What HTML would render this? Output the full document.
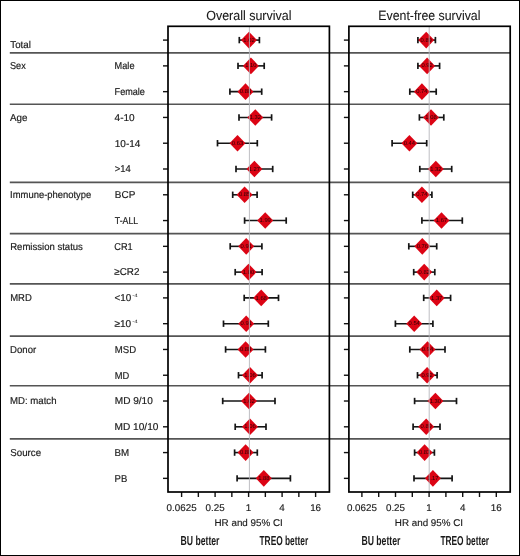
<!DOCTYPE html><html><head><meta charset="utf-8"><style>html,body{margin:0;padding:0;background:#fff;}svg{display:block;will-change:transform;text-rendering:geometricPrecision;}text{font-family:"Liberation Sans", sans-serif;}</style></head><body>
<svg width="520" height="556" viewBox="0 0 520 556">
<rect x="0" y="0" width="520" height="556" fill="#fff"/>
<line x1="9.8" y1="52.90" x2="510.2" y2="52.90" stroke="#555" stroke-width="1.6"/>
<line x1="9.8" y1="104.20" x2="510.2" y2="104.20" stroke="#555" stroke-width="1.6"/>
<line x1="9.8" y1="182.40" x2="510.2" y2="182.40" stroke="#555" stroke-width="1.6"/>
<line x1="9.8" y1="233.60" x2="510.2" y2="233.60" stroke="#555" stroke-width="1.6"/>
<line x1="9.8" y1="283.90" x2="510.2" y2="283.90" stroke="#555" stroke-width="1.6"/>
<line x1="9.8" y1="336.10" x2="510.2" y2="336.10" stroke="#555" stroke-width="1.6"/>
<line x1="9.8" y1="385.70" x2="510.2" y2="385.70" stroke="#555" stroke-width="1.6"/>
<line x1="9.8" y1="438.90" x2="510.2" y2="438.90" stroke="#555" stroke-width="1.6"/>
<text x="10.30" y="48.10" font-size="10.0" fill="#1a1a1a" stroke="#1a1a1a" stroke-width="0.18" textLength="20.50" lengthAdjust="spacingAndGlyphs">Total</text>
<text x="10.00" y="69.18" font-size="10.0" fill="#1a1a1a" stroke="#1a1a1a" stroke-width="0.18" textLength="15.80" lengthAdjust="spacingAndGlyphs">Sex</text>
<text x="10.00" y="120.74" font-size="10.0" fill="#1a1a1a" stroke="#1a1a1a" stroke-width="0.18" textLength="17.40" lengthAdjust="spacingAndGlyphs">Age</text>
<text x="10.10" y="198.08" font-size="10.0" fill="#1a1a1a" stroke="#1a1a1a" stroke-width="0.18" textLength="81.20" lengthAdjust="spacingAndGlyphs">Immune-phenotype</text>
<text x="10.20" y="249.64" font-size="10.0" fill="#1a1a1a" stroke="#1a1a1a" stroke-width="0.18" textLength="72.70" lengthAdjust="spacingAndGlyphs">Remission status</text>
<text x="10.20" y="301.20" font-size="10.0" fill="#1a1a1a" stroke="#1a1a1a" stroke-width="0.18" textLength="21.60" lengthAdjust="spacingAndGlyphs">MRD</text>
<text x="10.10" y="352.76" font-size="10.0" fill="#1a1a1a" stroke="#1a1a1a" stroke-width="0.18" textLength="26.10" lengthAdjust="spacingAndGlyphs">Donor</text>
<text x="10.10" y="404.32" font-size="10.0" fill="#1a1a1a" stroke="#1a1a1a" stroke-width="0.18" textLength="46.40" lengthAdjust="spacingAndGlyphs">MD: match</text>
<text x="10.30" y="455.88" font-size="10.0" fill="#1a1a1a" stroke="#1a1a1a" stroke-width="0.18" textLength="30.80" lengthAdjust="spacingAndGlyphs">Source</text>
<text x="114.60" y="69.18" font-size="10.0" fill="#1a1a1a" stroke="#1a1a1a" stroke-width="0.18" textLength="19.90" lengthAdjust="spacingAndGlyphs">Male</text>
<text x="114.60" y="94.96" font-size="10.0" fill="#1a1a1a" stroke="#1a1a1a" stroke-width="0.18" textLength="30.30" lengthAdjust="spacingAndGlyphs">Female</text>
<text x="114.60" y="120.74" font-size="10.0" fill="#1a1a1a" stroke="#1a1a1a" stroke-width="0.18" textLength="20.10" lengthAdjust="spacingAndGlyphs">4-10</text>
<text x="114.80" y="146.52" font-size="10.0" fill="#1a1a1a" stroke="#1a1a1a" stroke-width="0.18" textLength="25.60" lengthAdjust="spacingAndGlyphs">10-14</text>
<text x="114.80" y="172.30" font-size="10.0" fill="#1a1a1a" stroke="#1a1a1a" stroke-width="0.18" textLength="16.00" lengthAdjust="spacingAndGlyphs">&gt;14</text>
<text x="114.80" y="198.08" font-size="10.0" fill="#1a1a1a" stroke="#1a1a1a" stroke-width="0.18" textLength="20.50" lengthAdjust="spacingAndGlyphs">BCP</text>
<text x="114.80" y="223.86" font-size="10.0" fill="#1a1a1a" stroke="#1a1a1a" stroke-width="0.18" textLength="23.40" lengthAdjust="spacingAndGlyphs">T-ALL</text>
<text x="114.30" y="249.64" font-size="10.0" fill="#1a1a1a" stroke="#1a1a1a" stroke-width="0.18" textLength="18.40" lengthAdjust="spacingAndGlyphs">CR1</text>
<text x="114.30" y="275.42" font-size="10.0" fill="#1a1a1a" stroke="#1a1a1a" stroke-width="0.18" textLength="25.10" lengthAdjust="spacingAndGlyphs">≥CR2</text>
<text x="114.40" y="301.20" font-size="10.0" fill="#1a1a1a" stroke="#1a1a1a" stroke-width="0.18" textLength="16.80" lengthAdjust="spacingAndGlyphs">&lt;10</text>
<text x="132.20" y="297.30" font-size="4.8" fill="#1a1a1a" textLength="5.6" lengthAdjust="spacingAndGlyphs">-4</text>
<text x="114.40" y="326.98" font-size="10.0" fill="#1a1a1a" stroke="#1a1a1a" stroke-width="0.18" textLength="16.80" lengthAdjust="spacingAndGlyphs">≥10</text>
<text x="132.20" y="323.08" font-size="4.8" fill="#1a1a1a" textLength="5.6" lengthAdjust="spacingAndGlyphs">-4</text>
<text x="114.80" y="352.76" font-size="10.0" fill="#1a1a1a" stroke="#1a1a1a" stroke-width="0.18" textLength="21.30" lengthAdjust="spacingAndGlyphs">MSD</text>
<text x="114.80" y="378.54" font-size="10.0" fill="#1a1a1a" stroke="#1a1a1a" stroke-width="0.18" textLength="14.50" lengthAdjust="spacingAndGlyphs">MD</text>
<text x="114.80" y="404.32" font-size="10.0" fill="#1a1a1a" stroke="#1a1a1a" stroke-width="0.18" textLength="38.00" lengthAdjust="spacingAndGlyphs">MD 9/10</text>
<text x="114.60" y="430.10" font-size="10.0" fill="#1a1a1a" stroke="#1a1a1a" stroke-width="0.18" textLength="43.80" lengthAdjust="spacingAndGlyphs">MD 10/10</text>
<text x="114.60" y="455.88" font-size="10.0" fill="#1a1a1a" stroke="#1a1a1a" stroke-width="0.18" textLength="14.60" lengthAdjust="spacingAndGlyphs">BM</text>
<text x="114.60" y="481.66" font-size="10.0" fill="#1a1a1a" stroke="#1a1a1a" stroke-width="0.18" textLength="12.70" lengthAdjust="spacingAndGlyphs">PB</text>
<text x="206.20" y="20.4" font-size="13.3" fill="#1a1a1a" stroke="#1a1a1a" stroke-width="0.1" textLength="85.30" lengthAdjust="spacingAndGlyphs">Overall survival</text>
<line x1="163.00" y1="40.10" x2="168.00" y2="40.10" stroke="#111" stroke-width="1.4"/>
<line x1="163.00" y1="65.88" x2="168.00" y2="65.88" stroke="#111" stroke-width="1.4"/>
<line x1="163.00" y1="91.66" x2="168.00" y2="91.66" stroke="#111" stroke-width="1.4"/>
<line x1="163.00" y1="117.44" x2="168.00" y2="117.44" stroke="#111" stroke-width="1.4"/>
<line x1="163.00" y1="143.22" x2="168.00" y2="143.22" stroke="#111" stroke-width="1.4"/>
<line x1="163.00" y1="169.00" x2="168.00" y2="169.00" stroke="#111" stroke-width="1.4"/>
<line x1="163.00" y1="194.78" x2="168.00" y2="194.78" stroke="#111" stroke-width="1.4"/>
<line x1="163.00" y1="220.56" x2="168.00" y2="220.56" stroke="#111" stroke-width="1.4"/>
<line x1="163.00" y1="246.34" x2="168.00" y2="246.34" stroke="#111" stroke-width="1.4"/>
<line x1="163.00" y1="272.12" x2="168.00" y2="272.12" stroke="#111" stroke-width="1.4"/>
<line x1="163.00" y1="297.90" x2="168.00" y2="297.90" stroke="#111" stroke-width="1.4"/>
<line x1="163.00" y1="323.68" x2="168.00" y2="323.68" stroke="#111" stroke-width="1.4"/>
<line x1="163.00" y1="349.46" x2="168.00" y2="349.46" stroke="#111" stroke-width="1.4"/>
<line x1="163.00" y1="375.24" x2="168.00" y2="375.24" stroke="#111" stroke-width="1.4"/>
<line x1="163.00" y1="401.02" x2="168.00" y2="401.02" stroke="#111" stroke-width="1.4"/>
<line x1="163.00" y1="426.80" x2="168.00" y2="426.80" stroke="#111" stroke-width="1.4"/>
<line x1="163.00" y1="452.58" x2="168.00" y2="452.58" stroke="#111" stroke-width="1.4"/>
<line x1="163.00" y1="478.36" x2="168.00" y2="478.36" stroke="#111" stroke-width="1.4"/>
<line x1="181.60" y1="492.00" x2="181.60" y2="497.00" stroke="#111" stroke-width="1.4"/>
<line x1="198.35" y1="492.00" x2="198.35" y2="497.00" stroke="#111" stroke-width="1.4"/>
<line x1="215.10" y1="492.00" x2="215.10" y2="497.00" stroke="#111" stroke-width="1.4"/>
<line x1="231.85" y1="492.00" x2="231.85" y2="497.00" stroke="#111" stroke-width="1.4"/>
<line x1="248.60" y1="492.00" x2="248.60" y2="497.00" stroke="#111" stroke-width="1.4"/>
<line x1="265.35" y1="492.00" x2="265.35" y2="497.00" stroke="#111" stroke-width="1.4"/>
<line x1="282.10" y1="492.00" x2="282.10" y2="497.00" stroke="#111" stroke-width="1.4"/>
<line x1="298.85" y1="492.00" x2="298.85" y2="497.00" stroke="#111" stroke-width="1.4"/>
<line x1="315.60" y1="492.00" x2="315.60" y2="497.00" stroke="#111" stroke-width="1.4"/>
<text x="181.60" y="510.6" font-size="9.8" fill="#1a1a1a" stroke="#1a1a1a" stroke-width="0.15" text-anchor="middle">0.0625</text>
<text x="215.10" y="510.6" font-size="9.8" fill="#1a1a1a" stroke="#1a1a1a" stroke-width="0.15" text-anchor="middle">0.25</text>
<text x="248.60" y="510.6" font-size="9.8" fill="#1a1a1a" stroke="#1a1a1a" stroke-width="0.15" text-anchor="middle">1</text>
<text x="282.10" y="510.6" font-size="9.8" fill="#1a1a1a" stroke="#1a1a1a" stroke-width="0.15" text-anchor="middle">4</text>
<text x="315.60" y="510.6" font-size="9.8" fill="#1a1a1a" stroke="#1a1a1a" stroke-width="0.15" text-anchor="middle">16</text>
<text x="214.50" y="526.2" font-size="9.8" fill="#1a1a1a" stroke="#1a1a1a" stroke-width="0.15" textLength="68.3" lengthAdjust="spacingAndGlyphs">HR and 95% CI</text>
<text x="180.50" y="545.1" font-size="13" font-weight="bold" fill="#1a1a1a" textLength="39.00" lengthAdjust="spacingAndGlyphs">BU better</text>
<text x="259.50" y="545.1" font-size="13" font-weight="bold" fill="#1a1a1a" textLength="48.70" lengthAdjust="spacingAndGlyphs">TREO better</text>
<line x1="239.30" y1="40.10" x2="259.40" y2="40.10" stroke="#151515" stroke-width="1.6"/>
<line x1="239.30" y1="36.90" x2="239.30" y2="43.30" stroke="#151515" stroke-width="1.7"/>
<line x1="259.40" y1="36.90" x2="259.40" y2="43.30" stroke="#151515" stroke-width="1.7"/>
<path d="M241.00 40.10L249.00 31.80L257.00 40.10L249.00 48.40Z" fill="#dc0414"/>
<text x="249.00" y="41.70" font-size="5.8" fill="#2a0004" text-anchor="middle">1.02</text>
<line x1="238.00" y1="65.88" x2="264.20" y2="65.88" stroke="#151515" stroke-width="1.6"/>
<line x1="238.00" y1="62.68" x2="238.00" y2="69.08" stroke="#151515" stroke-width="1.7"/>
<line x1="264.20" y1="62.68" x2="264.20" y2="69.08" stroke="#151515" stroke-width="1.7"/>
<path d="M242.90 65.88L250.90 57.58L258.90 65.88L250.90 74.18Z" fill="#dc0414"/>
<text x="250.90" y="67.48" font-size="5.8" fill="#2a0004" text-anchor="middle">1.10</text>
<line x1="229.90" y1="91.66" x2="261.70" y2="91.66" stroke="#151515" stroke-width="1.6"/>
<line x1="229.90" y1="88.46" x2="229.90" y2="94.86" stroke="#151515" stroke-width="1.7"/>
<line x1="261.70" y1="88.46" x2="261.70" y2="94.86" stroke="#151515" stroke-width="1.7"/>
<path d="M237.50 91.66L245.50 83.36L253.50 91.66L245.50 99.96Z" fill="#dc0414"/>
<text x="245.50" y="93.26" font-size="5.8" fill="#2a0004" text-anchor="middle">0.88</text>
<line x1="239.00" y1="117.44" x2="271.60" y2="117.44" stroke="#151515" stroke-width="1.6"/>
<line x1="239.00" y1="114.24" x2="239.00" y2="120.64" stroke="#151515" stroke-width="1.7"/>
<line x1="271.60" y1="114.24" x2="271.60" y2="120.64" stroke="#151515" stroke-width="1.7"/>
<path d="M247.30 117.44L255.30 109.14L263.30 117.44L255.30 125.74Z" fill="#dc0414"/>
<text x="255.30" y="119.04" font-size="5.8" fill="#2a0004" text-anchor="middle">1.32</text>
<line x1="217.50" y1="143.22" x2="257.30" y2="143.22" stroke="#151515" stroke-width="1.6"/>
<line x1="217.50" y1="140.02" x2="217.50" y2="146.42" stroke="#151515" stroke-width="1.7"/>
<line x1="257.30" y1="140.02" x2="257.30" y2="146.42" stroke="#151515" stroke-width="1.7"/>
<path d="M229.50 143.22L237.50 134.92L245.50 143.22L237.50 151.52Z" fill="#dc0414"/>
<text x="237.50" y="144.82" font-size="5.8" fill="#2a0004" text-anchor="middle">0.63</text>
<line x1="236.00" y1="169.00" x2="272.70" y2="169.00" stroke="#151515" stroke-width="1.6"/>
<line x1="236.00" y1="165.80" x2="236.00" y2="172.20" stroke="#151515" stroke-width="1.7"/>
<line x1="272.70" y1="165.80" x2="272.70" y2="172.20" stroke="#151515" stroke-width="1.7"/>
<path d="M246.40 169.00L254.40 160.70L262.40 169.00L254.40 177.30Z" fill="#dc0414"/>
<text x="254.40" y="170.60" font-size="5.8" fill="#2a0004" text-anchor="middle">1.27</text>
<line x1="232.70" y1="194.78" x2="257.10" y2="194.78" stroke="#151515" stroke-width="1.6"/>
<line x1="232.70" y1="191.58" x2="232.70" y2="197.98" stroke="#151515" stroke-width="1.7"/>
<line x1="257.10" y1="191.58" x2="257.10" y2="197.98" stroke="#151515" stroke-width="1.7"/>
<path d="M236.60 194.78L244.60 186.48L252.60 194.78L244.60 203.08Z" fill="#dc0414"/>
<text x="244.60" y="196.38" font-size="5.8" fill="#2a0004" text-anchor="middle">0.85</text>
<line x1="244.60" y1="220.56" x2="286.20" y2="220.56" stroke="#151515" stroke-width="1.6"/>
<line x1="244.60" y1="217.36" x2="244.60" y2="223.76" stroke="#151515" stroke-width="1.7"/>
<line x1="286.20" y1="217.36" x2="286.20" y2="223.76" stroke="#151515" stroke-width="1.7"/>
<path d="M257.20 220.56L265.20 212.26L273.20 220.56L265.20 228.86Z" fill="#dc0414"/>
<text x="265.20" y="222.16" font-size="5.8" fill="#2a0004" text-anchor="middle">1.99</text>
<line x1="230.20" y1="246.34" x2="261.90" y2="246.34" stroke="#151515" stroke-width="1.6"/>
<line x1="230.20" y1="243.14" x2="230.20" y2="249.54" stroke="#151515" stroke-width="1.7"/>
<line x1="261.90" y1="243.14" x2="261.90" y2="249.54" stroke="#151515" stroke-width="1.7"/>
<path d="M238.20 246.34L246.20 238.04L254.20 246.34L246.20 254.64Z" fill="#dc0414"/>
<text x="246.20" y="247.94" font-size="5.8" fill="#2a0004" text-anchor="middle">0.91</text>
<line x1="235.20" y1="272.12" x2="262.10" y2="272.12" stroke="#151515" stroke-width="1.6"/>
<line x1="235.20" y1="268.92" x2="235.20" y2="275.32" stroke="#151515" stroke-width="1.7"/>
<line x1="262.10" y1="268.92" x2="262.10" y2="275.32" stroke="#151515" stroke-width="1.7"/>
<path d="M240.50 272.12L248.50 263.82L256.50 272.12L248.50 280.42Z" fill="#dc0414"/>
<text x="248.50" y="273.72" font-size="5.8" fill="#2a0004" text-anchor="middle">1.00</text>
<line x1="244.20" y1="297.90" x2="278.50" y2="297.90" stroke="#151515" stroke-width="1.6"/>
<line x1="244.20" y1="294.70" x2="244.20" y2="301.10" stroke="#151515" stroke-width="1.7"/>
<line x1="278.50" y1="294.70" x2="278.50" y2="301.10" stroke="#151515" stroke-width="1.7"/>
<path d="M253.20 297.90L261.20 289.60L269.20 297.90L261.20 306.20Z" fill="#dc0414"/>
<text x="261.20" y="299.50" font-size="5.8" fill="#2a0004" text-anchor="middle">1.68</text>
<line x1="223.50" y1="323.68" x2="268.30" y2="323.68" stroke="#151515" stroke-width="1.6"/>
<line x1="223.50" y1="320.48" x2="223.50" y2="326.88" stroke="#151515" stroke-width="1.7"/>
<line x1="268.30" y1="320.48" x2="268.30" y2="326.88" stroke="#151515" stroke-width="1.7"/>
<path d="M238.20 323.68L246.20 315.38L254.20 323.68L246.20 331.98Z" fill="#dc0414"/>
<text x="246.20" y="325.28" font-size="5.8" fill="#2a0004" text-anchor="middle">0.91</text>
<line x1="225.60" y1="349.46" x2="265.40" y2="349.46" stroke="#151515" stroke-width="1.6"/>
<line x1="225.60" y1="346.26" x2="225.60" y2="352.66" stroke="#151515" stroke-width="1.7"/>
<line x1="265.40" y1="346.26" x2="265.40" y2="352.66" stroke="#151515" stroke-width="1.7"/>
<path d="M237.60 349.46L245.60 341.16L253.60 349.46L245.60 357.76Z" fill="#dc0414"/>
<text x="245.60" y="351.06" font-size="5.8" fill="#2a0004" text-anchor="middle">0.88</text>
<line x1="238.50" y1="375.24" x2="262.10" y2="375.24" stroke="#151515" stroke-width="1.6"/>
<line x1="238.50" y1="372.04" x2="238.50" y2="378.44" stroke="#151515" stroke-width="1.7"/>
<line x1="262.10" y1="372.04" x2="262.10" y2="378.44" stroke="#151515" stroke-width="1.7"/>
<path d="M242.00 375.24L250.00 366.94L258.00 375.24L250.00 383.54Z" fill="#dc0414"/>
<text x="250.00" y="376.84" font-size="5.8" fill="#2a0004" text-anchor="middle">1.06</text>
<line x1="222.70" y1="401.02" x2="275.00" y2="401.02" stroke="#151515" stroke-width="1.6"/>
<line x1="222.70" y1="397.82" x2="222.70" y2="404.22" stroke="#151515" stroke-width="1.7"/>
<line x1="275.00" y1="397.82" x2="275.00" y2="404.22" stroke="#151515" stroke-width="1.7"/>
<path d="M241.00 401.02L249.00 392.72L257.00 401.02L249.00 409.32Z" fill="#dc0414"/>
<text x="249.00" y="402.62" font-size="5.8" fill="#2a0004" text-anchor="middle">1.02</text>
<line x1="235.20" y1="426.80" x2="266.00" y2="426.80" stroke="#151515" stroke-width="1.6"/>
<line x1="235.20" y1="423.60" x2="235.20" y2="430.00" stroke="#151515" stroke-width="1.7"/>
<line x1="266.00" y1="423.60" x2="266.00" y2="430.00" stroke="#151515" stroke-width="1.7"/>
<path d="M242.00 426.80L250.00 418.50L258.00 426.80L250.00 435.10Z" fill="#dc0414"/>
<text x="250.00" y="428.40" font-size="5.8" fill="#2a0004" text-anchor="middle">1.06</text>
<line x1="234.60" y1="452.58" x2="257.30" y2="452.58" stroke="#151515" stroke-width="1.6"/>
<line x1="234.60" y1="449.38" x2="234.60" y2="455.78" stroke="#151515" stroke-width="1.7"/>
<line x1="257.30" y1="449.38" x2="257.30" y2="455.78" stroke="#151515" stroke-width="1.7"/>
<path d="M237.60 452.58L245.60 444.28L253.60 452.58L245.60 460.88Z" fill="#dc0414"/>
<text x="245.60" y="454.18" font-size="5.8" fill="#2a0004" text-anchor="middle">0.88</text>
<line x1="237.10" y1="478.36" x2="290.40" y2="478.36" stroke="#151515" stroke-width="1.6"/>
<line x1="237.10" y1="475.16" x2="237.10" y2="481.56" stroke="#151515" stroke-width="1.7"/>
<line x1="290.40" y1="475.16" x2="290.40" y2="481.56" stroke="#151515" stroke-width="1.7"/>
<path d="M255.80 478.36L263.80 470.06L271.80 478.36L263.80 486.66Z" fill="#dc0414"/>
<text x="263.80" y="479.96" font-size="5.8" fill="#2a0004" text-anchor="middle">1.88</text>
<line x1="249.40" y1="26.30" x2="249.40" y2="492.00" stroke="#b4b4b8" stroke-opacity="0.85" stroke-width="1"/>
<rect x="168.00" y="26.30" width="161.40" height="465.70" fill="none" stroke="#000" stroke-width="1.7"/>
<text x="378.30" y="20.4" font-size="13.3" fill="#1a1a1a" stroke="#1a1a1a" stroke-width="0.1" textLength="102.10" lengthAdjust="spacingAndGlyphs">Event-free survival</text>
<line x1="343.90" y1="40.10" x2="348.90" y2="40.10" stroke="#111" stroke-width="1.4"/>
<line x1="343.90" y1="65.88" x2="348.90" y2="65.88" stroke="#111" stroke-width="1.4"/>
<line x1="343.90" y1="91.66" x2="348.90" y2="91.66" stroke="#111" stroke-width="1.4"/>
<line x1="343.90" y1="117.44" x2="348.90" y2="117.44" stroke="#111" stroke-width="1.4"/>
<line x1="343.90" y1="143.22" x2="348.90" y2="143.22" stroke="#111" stroke-width="1.4"/>
<line x1="343.90" y1="169.00" x2="348.90" y2="169.00" stroke="#111" stroke-width="1.4"/>
<line x1="343.90" y1="194.78" x2="348.90" y2="194.78" stroke="#111" stroke-width="1.4"/>
<line x1="343.90" y1="220.56" x2="348.90" y2="220.56" stroke="#111" stroke-width="1.4"/>
<line x1="343.90" y1="246.34" x2="348.90" y2="246.34" stroke="#111" stroke-width="1.4"/>
<line x1="343.90" y1="272.12" x2="348.90" y2="272.12" stroke="#111" stroke-width="1.4"/>
<line x1="343.90" y1="297.90" x2="348.90" y2="297.90" stroke="#111" stroke-width="1.4"/>
<line x1="343.90" y1="323.68" x2="348.90" y2="323.68" stroke="#111" stroke-width="1.4"/>
<line x1="343.90" y1="349.46" x2="348.90" y2="349.46" stroke="#111" stroke-width="1.4"/>
<line x1="343.90" y1="375.24" x2="348.90" y2="375.24" stroke="#111" stroke-width="1.4"/>
<line x1="343.90" y1="401.02" x2="348.90" y2="401.02" stroke="#111" stroke-width="1.4"/>
<line x1="343.90" y1="426.80" x2="348.90" y2="426.80" stroke="#111" stroke-width="1.4"/>
<line x1="343.90" y1="452.58" x2="348.90" y2="452.58" stroke="#111" stroke-width="1.4"/>
<line x1="343.90" y1="478.36" x2="348.90" y2="478.36" stroke="#111" stroke-width="1.4"/>
<line x1="361.90" y1="492.00" x2="361.90" y2="497.00" stroke="#111" stroke-width="1.4"/>
<line x1="378.70" y1="492.00" x2="378.70" y2="497.00" stroke="#111" stroke-width="1.4"/>
<line x1="395.50" y1="492.00" x2="395.50" y2="497.00" stroke="#111" stroke-width="1.4"/>
<line x1="412.30" y1="492.00" x2="412.30" y2="497.00" stroke="#111" stroke-width="1.4"/>
<line x1="429.10" y1="492.00" x2="429.10" y2="497.00" stroke="#111" stroke-width="1.4"/>
<line x1="445.90" y1="492.00" x2="445.90" y2="497.00" stroke="#111" stroke-width="1.4"/>
<line x1="462.70" y1="492.00" x2="462.70" y2="497.00" stroke="#111" stroke-width="1.4"/>
<line x1="479.50" y1="492.00" x2="479.50" y2="497.00" stroke="#111" stroke-width="1.4"/>
<line x1="496.30" y1="492.00" x2="496.30" y2="497.00" stroke="#111" stroke-width="1.4"/>
<text x="361.90" y="510.6" font-size="9.8" fill="#1a1a1a" stroke="#1a1a1a" stroke-width="0.15" text-anchor="middle">0.0625</text>
<text x="395.50" y="510.6" font-size="9.8" fill="#1a1a1a" stroke="#1a1a1a" stroke-width="0.15" text-anchor="middle">0.25</text>
<text x="429.10" y="510.6" font-size="9.8" fill="#1a1a1a" stroke="#1a1a1a" stroke-width="0.15" text-anchor="middle">1</text>
<text x="462.70" y="510.6" font-size="9.8" fill="#1a1a1a" stroke="#1a1a1a" stroke-width="0.15" text-anchor="middle">4</text>
<text x="496.30" y="510.6" font-size="9.8" fill="#1a1a1a" stroke="#1a1a1a" stroke-width="0.15" text-anchor="middle">16</text>
<text x="394.80" y="526.2" font-size="9.8" fill="#1a1a1a" stroke="#1a1a1a" stroke-width="0.15" textLength="68.3" lengthAdjust="spacingAndGlyphs">HR and 95% CI</text>
<text x="361.40" y="545.1" font-size="13" font-weight="bold" fill="#1a1a1a" textLength="39.00" lengthAdjust="spacingAndGlyphs">BU better</text>
<text x="440.40" y="545.1" font-size="13" font-weight="bold" fill="#1a1a1a" textLength="48.70" lengthAdjust="spacingAndGlyphs">TREO better</text>
<line x1="417.90" y1="40.10" x2="435.40" y2="40.10" stroke="#151515" stroke-width="1.6"/>
<line x1="417.90" y1="36.90" x2="417.90" y2="43.30" stroke="#151515" stroke-width="1.7"/>
<line x1="435.40" y1="36.90" x2="435.40" y2="43.30" stroke="#151515" stroke-width="1.7"/>
<path d="M418.20 40.10L426.20 31.80L434.20 40.10L426.20 48.40Z" fill="#dc0414"/>
<text x="426.20" y="41.70" font-size="5.8" fill="#2a0004" text-anchor="middle">0.89</text>
<line x1="417.90" y1="65.88" x2="439.60" y2="65.88" stroke="#151515" stroke-width="1.6"/>
<line x1="417.90" y1="62.68" x2="417.90" y2="69.08" stroke="#151515" stroke-width="1.7"/>
<line x1="439.60" y1="62.68" x2="439.60" y2="69.08" stroke="#151515" stroke-width="1.7"/>
<path d="M419.10 65.88L427.10 57.58L435.10 65.88L427.10 74.18Z" fill="#dc0414"/>
<text x="427.10" y="67.48" font-size="5.8" fill="#2a0004" text-anchor="middle">0.92</text>
<line x1="409.80" y1="91.66" x2="436.20" y2="91.66" stroke="#151515" stroke-width="1.6"/>
<line x1="409.80" y1="88.46" x2="409.80" y2="94.86" stroke="#151515" stroke-width="1.7"/>
<line x1="436.20" y1="88.46" x2="436.20" y2="94.86" stroke="#151515" stroke-width="1.7"/>
<path d="M413.90 91.66L421.90 83.36L429.90 91.66L421.90 99.96Z" fill="#dc0414"/>
<text x="421.90" y="93.26" font-size="5.8" fill="#2a0004" text-anchor="middle">0.74</text>
<line x1="419.40" y1="117.44" x2="443.80" y2="117.44" stroke="#151515" stroke-width="1.6"/>
<line x1="419.40" y1="114.24" x2="419.40" y2="120.64" stroke="#151515" stroke-width="1.7"/>
<line x1="443.80" y1="114.24" x2="443.80" y2="120.64" stroke="#151515" stroke-width="1.7"/>
<path d="M423.00 117.44L431.00 109.14L439.00 117.44L431.00 125.74Z" fill="#dc0414"/>
<text x="431.00" y="119.04" font-size="5.8" fill="#2a0004" text-anchor="middle">1.08</text>
<line x1="392.10" y1="143.22" x2="426.70" y2="143.22" stroke="#151515" stroke-width="1.6"/>
<line x1="392.10" y1="140.02" x2="392.10" y2="146.42" stroke="#151515" stroke-width="1.7"/>
<line x1="426.70" y1="140.02" x2="426.70" y2="146.42" stroke="#151515" stroke-width="1.7"/>
<path d="M401.40 143.22L409.40 134.92L417.40 143.22L409.40 151.52Z" fill="#dc0414"/>
<text x="409.40" y="144.82" font-size="5.8" fill="#2a0004" text-anchor="middle">0.44</text>
<line x1="419.80" y1="169.00" x2="451.70" y2="169.00" stroke="#151515" stroke-width="1.6"/>
<line x1="419.80" y1="165.80" x2="419.80" y2="172.20" stroke="#151515" stroke-width="1.7"/>
<line x1="451.70" y1="165.80" x2="451.70" y2="172.20" stroke="#151515" stroke-width="1.7"/>
<path d="M427.80 169.00L435.80 160.70L443.80 169.00L435.80 177.30Z" fill="#dc0414"/>
<text x="435.80" y="170.60" font-size="5.8" fill="#2a0004" text-anchor="middle">1.32</text>
<line x1="412.70" y1="194.78" x2="431.90" y2="194.78" stroke="#151515" stroke-width="1.6"/>
<line x1="412.70" y1="191.58" x2="412.70" y2="197.98" stroke="#151515" stroke-width="1.7"/>
<line x1="431.90" y1="191.58" x2="431.90" y2="197.98" stroke="#151515" stroke-width="1.7"/>
<path d="M413.90 194.78L421.90 186.48L429.90 194.78L421.90 203.08Z" fill="#dc0414"/>
<text x="421.90" y="196.38" font-size="5.8" fill="#2a0004" text-anchor="middle">0.74</text>
<line x1="421.90" y1="220.56" x2="462.30" y2="220.56" stroke="#151515" stroke-width="1.6"/>
<line x1="421.90" y1="217.36" x2="421.90" y2="223.76" stroke="#151515" stroke-width="1.7"/>
<line x1="462.30" y1="217.36" x2="462.30" y2="223.76" stroke="#151515" stroke-width="1.7"/>
<path d="M433.50 220.56L441.50 212.26L449.50 220.56L441.50 228.86Z" fill="#dc0414"/>
<text x="441.50" y="222.16" font-size="5.8" fill="#2a0004" text-anchor="middle">1.67</text>
<line x1="408.80" y1="246.34" x2="436.70" y2="246.34" stroke="#151515" stroke-width="1.6"/>
<line x1="408.80" y1="243.14" x2="408.80" y2="249.54" stroke="#151515" stroke-width="1.7"/>
<line x1="436.70" y1="243.14" x2="436.70" y2="249.54" stroke="#151515" stroke-width="1.7"/>
<path d="M414.30 246.34L422.30 238.04L430.30 246.34L422.30 254.64Z" fill="#dc0414"/>
<text x="422.30" y="247.94" font-size="5.8" fill="#2a0004" text-anchor="middle">0.76</text>
<line x1="413.70" y1="272.12" x2="434.80" y2="272.12" stroke="#151515" stroke-width="1.6"/>
<line x1="413.70" y1="268.92" x2="413.70" y2="275.32" stroke="#151515" stroke-width="1.7"/>
<line x1="434.80" y1="268.92" x2="434.80" y2="275.32" stroke="#151515" stroke-width="1.7"/>
<path d="M416.20 272.12L424.20 263.82L432.20 272.12L424.20 280.42Z" fill="#dc0414"/>
<text x="424.20" y="273.72" font-size="5.8" fill="#2a0004" text-anchor="middle">0.82</text>
<line x1="423.70" y1="297.90" x2="450.60" y2="297.90" stroke="#151515" stroke-width="1.6"/>
<line x1="423.70" y1="294.70" x2="423.70" y2="301.10" stroke="#151515" stroke-width="1.7"/>
<line x1="450.60" y1="294.70" x2="450.60" y2="301.10" stroke="#151515" stroke-width="1.7"/>
<path d="M428.70 297.90L436.70 289.60L444.70 297.90L436.70 306.20Z" fill="#dc0414"/>
<text x="436.70" y="299.50" font-size="5.8" fill="#2a0004" text-anchor="middle">1.37</text>
<line x1="395.40" y1="323.68" x2="432.90" y2="323.68" stroke="#151515" stroke-width="1.6"/>
<line x1="395.40" y1="320.48" x2="395.40" y2="326.88" stroke="#151515" stroke-width="1.7"/>
<line x1="432.90" y1="320.48" x2="432.90" y2="326.88" stroke="#151515" stroke-width="1.7"/>
<path d="M406.20 323.68L414.20 315.38L422.20 323.68L414.20 331.98Z" fill="#dc0414"/>
<text x="414.20" y="325.28" font-size="5.8" fill="#2a0004" text-anchor="middle">0.54</text>
<line x1="409.80" y1="349.46" x2="445.00" y2="349.46" stroke="#151515" stroke-width="1.6"/>
<line x1="409.80" y1="346.26" x2="409.80" y2="352.66" stroke="#151515" stroke-width="1.7"/>
<line x1="445.00" y1="346.26" x2="445.00" y2="352.66" stroke="#151515" stroke-width="1.7"/>
<path d="M419.50 349.46L427.50 341.16L435.50 349.46L427.50 357.76Z" fill="#dc0414"/>
<text x="427.50" y="351.06" font-size="5.8" fill="#2a0004" text-anchor="middle">0.94</text>
<line x1="417.50" y1="375.24" x2="437.10" y2="375.24" stroke="#151515" stroke-width="1.6"/>
<line x1="417.50" y1="372.04" x2="417.50" y2="378.44" stroke="#151515" stroke-width="1.7"/>
<line x1="437.10" y1="372.04" x2="437.10" y2="378.44" stroke="#151515" stroke-width="1.7"/>
<path d="M419.10 375.24L427.10 366.94L435.10 375.24L427.10 383.54Z" fill="#dc0414"/>
<text x="427.10" y="376.84" font-size="5.8" fill="#2a0004" text-anchor="middle">0.92</text>
<line x1="414.60" y1="401.02" x2="456.50" y2="401.02" stroke="#151515" stroke-width="1.6"/>
<line x1="414.60" y1="397.82" x2="414.60" y2="404.22" stroke="#151515" stroke-width="1.7"/>
<line x1="456.50" y1="397.82" x2="456.50" y2="404.22" stroke="#151515" stroke-width="1.7"/>
<path d="M427.40 401.02L435.40 392.72L443.40 401.02L435.40 409.32Z" fill="#dc0414"/>
<text x="435.40" y="402.62" font-size="5.8" fill="#2a0004" text-anchor="middle">1.30</text>
<line x1="413.10" y1="426.80" x2="440.00" y2="426.80" stroke="#151515" stroke-width="1.6"/>
<line x1="413.10" y1="423.60" x2="413.10" y2="430.00" stroke="#151515" stroke-width="1.7"/>
<line x1="440.00" y1="423.60" x2="440.00" y2="430.00" stroke="#151515" stroke-width="1.7"/>
<path d="M418.20 426.80L426.20 418.50L434.20 426.80L426.20 435.10Z" fill="#dc0414"/>
<text x="426.20" y="428.40" font-size="5.8" fill="#2a0004" text-anchor="middle">0.89</text>
<line x1="414.60" y1="452.58" x2="434.40" y2="452.58" stroke="#151515" stroke-width="1.6"/>
<line x1="414.60" y1="449.38" x2="414.60" y2="455.78" stroke="#151515" stroke-width="1.7"/>
<line x1="434.40" y1="449.38" x2="434.40" y2="455.78" stroke="#151515" stroke-width="1.7"/>
<path d="M416.60 452.58L424.60 444.28L432.60 452.58L424.60 460.88Z" fill="#dc0414"/>
<text x="424.60" y="454.18" font-size="5.8" fill="#2a0004" text-anchor="middle">0.83</text>
<line x1="414.00" y1="478.36" x2="452.10" y2="478.36" stroke="#151515" stroke-width="1.6"/>
<line x1="414.00" y1="475.16" x2="414.00" y2="481.56" stroke="#151515" stroke-width="1.7"/>
<line x1="452.10" y1="475.16" x2="452.10" y2="481.56" stroke="#151515" stroke-width="1.7"/>
<path d="M424.90 478.36L432.90 470.06L440.90 478.36L432.90 486.66Z" fill="#dc0414"/>
<text x="432.90" y="479.96" font-size="5.8" fill="#2a0004" text-anchor="middle">1.17</text>
<line x1="429.20" y1="26.30" x2="429.20" y2="492.00" stroke="#b4b4b8" stroke-opacity="0.85" stroke-width="1"/>
<rect x="348.90" y="26.30" width="161.30" height="465.70" fill="none" stroke="#000" stroke-width="1.7"/>
<rect x="0.5" y="0.5" width="519" height="555" fill="none" stroke="#000" stroke-width="1"/>
</svg></body></html>
